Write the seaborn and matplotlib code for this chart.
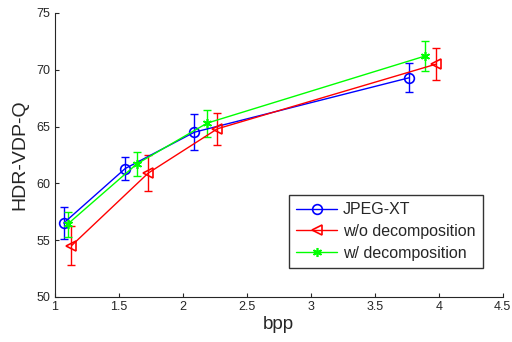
import pandas as pd
import numpy as np
import matplotlib
matplotlib.use("Agg")
import matplotlib.pyplot as plt
import seaborn as sns

# values
series_names = ["JPEG-XT", "w/o decomposition", "w/ decomposition"]
bpp_jpegxt = [1.07, 1.55, 2.09, 3.77]
q_jpegxt = [56.5, 61.3, 64.5, 69.3]
err_jpegxt = [1.4, 1.0, 1.6, 1.3]
bpp_wo = [1.13, 1.73, 2.27, 3.98]
q_wo = [54.5, 60.9, 64.8, 70.5]
err_wo = [1.7, 1.6, 1.4, 1.4]
bpp_w = [1.10, 1.64, 2.19, 3.89]
q_w = [56.4, 61.7, 65.3, 71.2]
err_w = [1.1, 1.1, 1.2, 1.35]

colors = ["#0000ff", "#ff0000", "#00ff00"]
markers = ["o", "<", (6, 2, 0)]  # last one: matlab-like asterisk
marker_sizes = [7, 7.5, 6.5]

sns.set_style("ticks")
plt.rcParams['font.family'] = ['Liberation Sans', 'DejaVu Sans']

df = pd.concat([
    pd.DataFrame({"bpp": bpp_jpegxt, "q": q_jpegxt, "err": err_jpegxt, "method": series_names[0]}),
    pd.DataFrame({"bpp": bpp_wo, "q": q_wo, "err": err_wo, "method": series_names[1]}),
    pd.DataFrame({"bpp": bpp_w, "q": q_w, "err": err_w, "method": series_names[2]}),
])

fig = plt.figure(figsize=(5.12, 3.42), dpi=100)
ax = fig.add_axes([0.107, 0.132, 0.875, 0.83])

for name, c, m, ms in zip(series_names, colors, markers, marker_sizes):
    d = df[df["method"] == name]
    ax.errorbar(d["bpp"], d["q"], yerr=d["err"], fmt="none", ecolor=c,
                elinewidth=1, capsize=3, capthick=1, zorder=2)
    sns.lineplot(x=d["bpp"].values, y=d["q"].values, color=c, marker=m,
                 markersize=ms, markerfacecolor="none", markeredgecolor=c,
                 markeredgewidth=1.2, linewidth=1, sort=False, estimator=None,
                 label=name, ax=ax, zorder=3)

ax.set_xlim(1, 4.5)
ax.set_ylim(50, 75)
ax.set_xticks(np.arange(1, 4.51, 0.5))
ax.set_xticklabels(["1", "1.5", "2", "2.5", "3", "3.5", "4", "4.5"])
ax.set_yticks(np.arange(50, 76, 5))
ax.tick_params(direction="in", length=3, labelsize=9, width=0.8, pad=3)
ax.set_xlabel("bpp", fontsize=13.5, labelpad=2)
ax.set_ylabel("HDR-VDP-Q", fontsize=14, labelpad=6)
sns.despine(ax=ax)

leg = ax.legend(loc="lower right", bbox_to_anchor=(0.955, 0.102),
                fontsize=11.5, frameon=True, fancybox=False, edgecolor="black",
                borderpad=0.45, handlelength=2.6, handletextpad=0.35,
                labelspacing=0.42, borderaxespad=0)
leg.get_frame().set_linewidth(1)

fig.savefig("out.png", dpi=100)
